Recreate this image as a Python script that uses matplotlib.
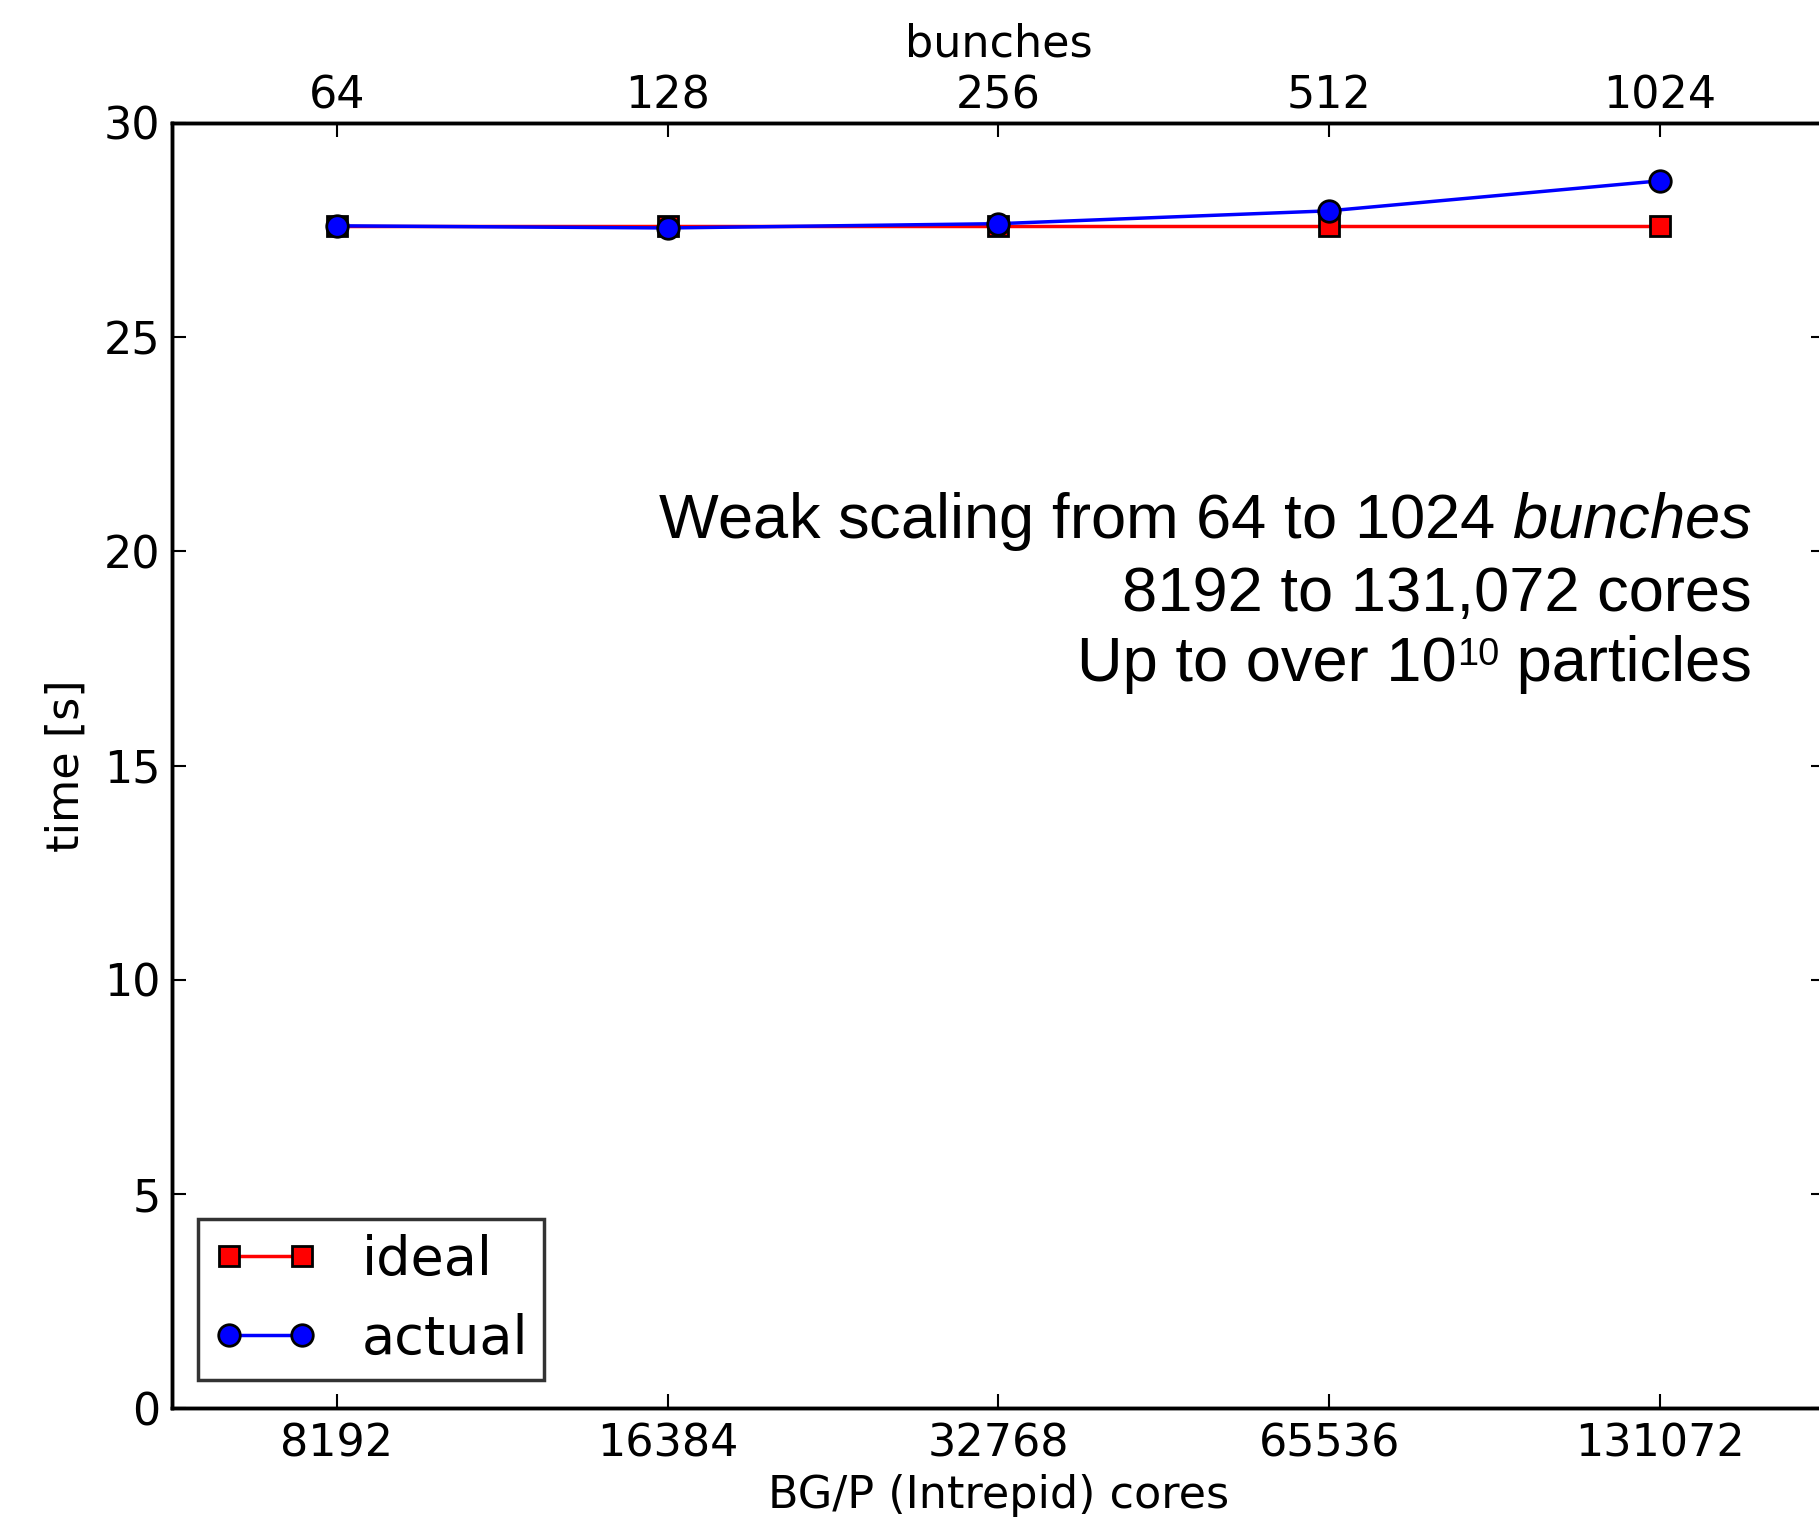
import matplotlib
matplotlib.use("Agg")
import matplotlib.pyplot as plt
from matplotlib.ticker import NullLocator

# weak scaling runs on BG/P
cores = [8192, 16384, 32768, 65536, 131072]
bunches = [64, 128, 256, 512, 1024]
ideal = [27.6, 27.6, 27.6, 27.6, 27.6]
actual = [27.6, 27.55, 27.65, 27.95, 28.65]

plt.rcParams['font.family'] = 'DejaVu Sans'
plt.rcParams['mathtext.fontset'] = 'custom'
plt.rcParams['mathtext.rm'] = 'Liberation Sans'
plt.rcParams['mathtext.it'] = 'Liberation Sans:italic'

fig = plt.figure(figsize=(18.19, 15.22), dpi=100)
ax = fig.add_axes([0.0944, 0.0746, 0.909, 0.8446])

ax.plot(cores, ideal, color='r', marker='s', markersize=15, markeredgecolor='k',
        markeredgewidth=2, linewidth=2.5, label='ideal')
ax.plot(cores, actual, color='b', marker='o', markersize=15.5, markeredgecolor='k',
        markeredgewidth=2, linewidth=2.5, label='actual')

ax.set_xscale('log', base=2)
ax.set_xlim(2 ** 12.5, 2 ** 17.5)
ax.set_ylim(0, 30)
ax.set_xticks(cores)
ax.set_xticklabels([str(c) for c in cores])
ax.set_yticks(range(0, 31, 5))
ax.xaxis.set_minor_locator(NullLocator())

for s in ax.spines.values():
    s.set_linewidth(2.5)
ax.tick_params(axis='both', direction='in', length=10, width=1.5, labelsize=32)
ax.tick_params(axis='x', pad=10, top=False)
ax.tick_params(axis='y', pad=8, right=True)

ax.set_xlabel('BG/P (Intrepid) cores', fontsize=32, labelpad=6)
ax.set_ylabel('time [s]', fontsize=32, labelpad=12)

# second x axis with the number of bunches
ax2 = ax.twiny()
ax2.set_xscale('log', base=2)
ax2.set_xlim(ax.get_xlim())
ax2.set_xticks(cores)
ax2.set_xticklabels([str(b) for b in bunches])
ax2.xaxis.set_minor_locator(NullLocator())
ax2.tick_params(axis='x', direction='in', length=10, width=1.5, labelsize=32, pad=4)
ax2.set_xlabel('bunches', fontsize=32, labelpad=13)
for s in ax2.spines.values():
    s.set_linewidth(2.5)

leg = ax.legend(loc='lower left', bbox_to_anchor=(0.0157, 0.0218), borderaxespad=0,
                fontsize=39, numpoints=2, handlelength=1.95, handletextpad=0.8,
                borderpad=0.28, labelspacing=0.5, fancybox=False, edgecolor='k')
leg.get_frame().set_linewidth(2.5)

# annotation block, right aligned
xr = 0.9556
fs = 45.5
ax.text(xr, 0.6769, 'Weak scaling from 64 to 1024 $\\mathit{bunches}$',
        transform=ax.transAxes, ha='right', va='baseline',
        family='Liberation Sans', fontsize=fs)
ax.text(xr, 0.6201, '8192 to 131,072 cores',
        transform=ax.transAxes, ha='right', va='baseline',
        family='Liberation Sans', fontsize=fs)
t3 = ax.text(xr, 0.5659, ' particles',
             transform=ax.transAxes, ha='right', va='baseline',
             family='Liberation Sans', fontsize=fs)
sup = ax.annotate('10', xy=(0, 0), xycoords=t3, xytext=(0, 15.2),
                  textcoords='offset points', ha='right', va='bottom',
                  family='Liberation Sans', fontsize=27.3)
ax.annotate('Up to over 10', xy=(0, 0), xycoords=(sup, t3),
            ha='right', va='bottom', family='Liberation Sans', fontsize=fs)

fig.savefig('out.png', dpi=100)
